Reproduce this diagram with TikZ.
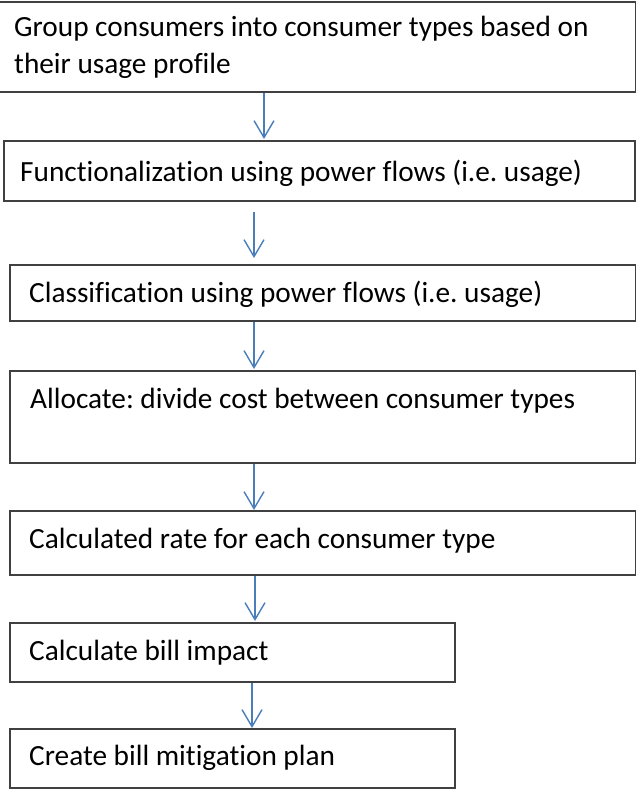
\documentclass[tikz,border=0pt]{standalone}
\usepackage{fontspec}
\newfontfamily\calib[Ligatures=NoCommon]{Carlito}
\usetikzlibrary{arrows.meta,positioning}
\definecolor{boxgrey}{RGB}{64,64,64}
\definecolor{flowblue}{RGB}{74,126,187}
\frenchspacing

\begin{document}
\begin{tikzpicture}[x=1pt,y=-1pt,
	stage/.style={rectangle,draw=boxgrey,line width=1.8pt,anchor=north west,inner sep=0pt},
	label/.style={inner sep=0pt,anchor=base west,align=left,font=\calib\fontsize{29.3}{37}\selectfont},
	flow/.style={draw=flowblue,line width=1.4pt,-{Straight Barb[length=17pt,width=20pt]}}]
\useasboundingbox (0,0) rectangle (636,789);

% boxes
\node[stage,minimum width=637pt,minimum height=90pt] at (-2,1.5) (b1) {};
\node[stage,minimum width=631pt,minimum height=60pt] at (3,140) (b2) {};
\node[stage,minimum width=626pt,minimum height=56pt] at (9,264) (b3) {};
\node[stage,minimum width=626pt,minimum height=92pt] at (9,370) (b4) {};
\node[stage,minimum width=626pt,minimum height=64pt] at (9,510) (b5) {};
\node[stage,minimum width=445pt,minimum height=59pt] at (9,622) (b6) {};
\node[stage,minimum width=445pt,minimum height=59pt] at (9,728) (b7) {};

% texts (base of a two-line label is its last line)
\node[label] at (14,74) (t1) {Group consumers into consumer types based on\\their usage profile};
\node[label] at (20,181) (t2) {Functionalization using power flows (i.e. usage)};
\node[label] at (29,302) (t3) {Classification using power flows (i.e. usage)};
\node[label] at (30,408) (t4) {Allocate: divide cost between consumer types};
\node[label] at (29,548) (t5) {Calculated rate for each consumer type};
\node[label] at (29,660) (t6) {Calculate bill impact};
\node[label] at (29,765) (t7) {Create bill mitigation plan};

\foreach \a/\b/\x/\s/\e in {b1/b2/264/0/1,b2/b3/254/10/6,b3/b4/254/0/1,b4/b5/254/0/0,b5/b6/255/0/1,b6/b7/252/0/0}
	\draw[flow,shorten <=\s pt,shorten >=\e pt] (\a.south -| \x,0) -- (\b.north -| \x,0);
\end{tikzpicture}
\end{document}
